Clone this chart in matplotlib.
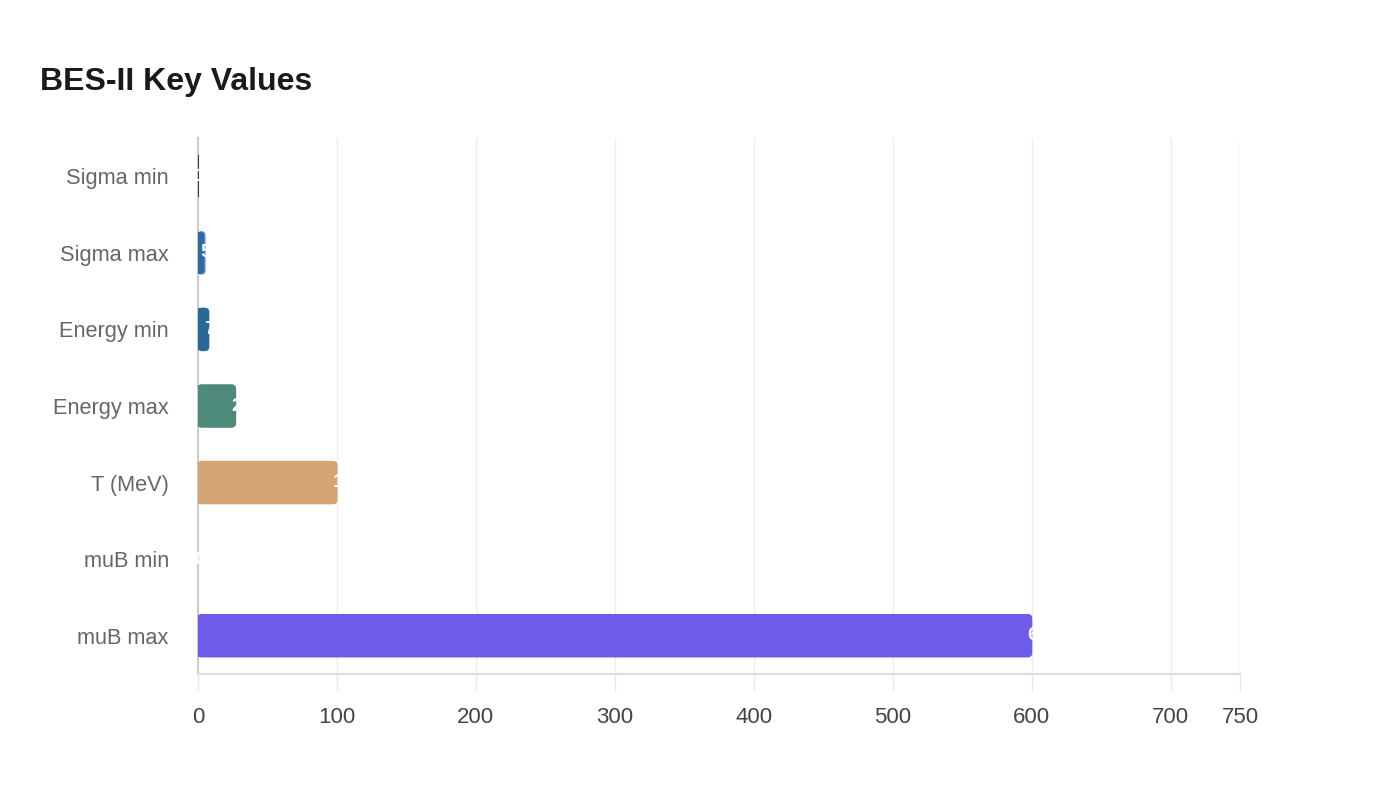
import matplotlib.pyplot as plt
from matplotlib.patches import FancyBboxPatch

plt.rcParams['font.family'] = ['Liberation Sans', 'DejaVu Sans']

# ********** Data *********************
categories = ['Sigma min', 'Sigma max', 'Energy min', 'Energy max',
              'T (MeV)', 'muB min', 'muB max']
values = [1, 5, 7.7, 27, 100, 0, 600]
value_labels = ['1', '5', '7.7', '27', '100', '0', '600']
colors = ['#3a3a3a', '#2e6a9e', '#2a6896', '#4e8a7a', '#d4a574', '#cccccc', '#6c5ce7']
edges = ['none', '#5b8fd6', 'none', 'none', 'none', 'none', 'none']
xticks = [0, 100, 200, 300, 400, 500, 600, 700, 750]
# *************************************


def rounded_bars(ax, bars, radius_px=4):
    """swap square bars for ones with a rounded right end"""
    fig = ax.figure
    fig.canvas.draw()
    x0, x1 = ax.get_xlim()
    y0, y1 = ax.get_ylim()
    bbox = ax.get_window_extent()
    px_x = bbox.width / (x1 - x0)
    px_y = bbox.height / abs(y1 - y0)
    for rect, col, ec in zip(bars, colors, edges):
        x, y = rect.get_x(), rect.get_y()
        w, h = rect.get_width(), rect.get_height()
        if w <= 0:
            rect.remove()
            continue
        r = min(radius_px / px_x, w / 2)
        if w < 2.5:
            continue
        rect.remove()
        aspect = (radius_px / px_y) / r if r > 0 else 1
        p = FancyBboxPatch((x, y), w, h,
                           boxstyle='round,pad=0,rounding_size=%f' % r,
                           mutation_aspect=aspect, fc=col,
                           ec=col if ec == 'none' else ec, lw=1, zorder=3)
        ax.add_patch(p)
        # square off the left end
        ax.add_patch(plt.Rectangle((x, y), min(w / 2, w - r), h, fc=col,
                                   ec='none', lw=0, zorder=3.1))


def main():
    fig = plt.figure(figsize=(14, 8), dpi=100)
    ax = fig.add_axes([0.1414, 0.1575, 0.7443, 0.67])

    ypos = list(range(len(categories)))
    bars = ax.barh(ypos, values, height=0.55, color=colors, zorder=3)

    ax.set_xlim(0, 750)
    ax.set_ylim(len(categories) - 0.5, -0.5)
    ax.set_yticks(ypos)
    ax.set_yticklabels(categories, fontsize=15.7, color='#666666')
    ax.set_xticks(xticks)
    ax.set_xticklabels([str(t) for t in xticks], fontsize=16, color='#444444')
    ax.tick_params(axis='y', length=0, pad=21)
    ax.tick_params(axis='x', length=12, color='#e8e8e8', width=1, pad=12)

    ax.grid(axis='x', color='#eeeeee', lw=1, zorder=0)
    for side in ['top', 'right']:
        ax.spines[side].set_visible(False)
    ax.spines['left'].set_color('#cccccc')
    ax.spines['left'].set_linewidth(1.5)
    ax.spines['bottom'].set_color('#dddddd')
    ax.spines['bottom'].set_linewidth(1.5)
    ax.axvline(750, color='#eeeeee', lw=1, zorder=0)

    rounded_bars(ax, bars)

    for y, v, lab in zip(ypos, values, value_labels):
        ax.annotate(lab, (v, y), xytext=(-3, 0), textcoords='offset points',
                    ha='left', va='center', color='white', fontsize=14,
                    fontweight='bold', zorder=4)

    fig.text(40 / 1400, 1 - 82 / 800, 'BES-II Key Values', fontsize=23,
             fontweight='bold', color='#1a1a1a', ha='left', va='center')

    fig.savefig('out.png', dpi=100, facecolor='white')


if __name__ == '__main__':
    main()
